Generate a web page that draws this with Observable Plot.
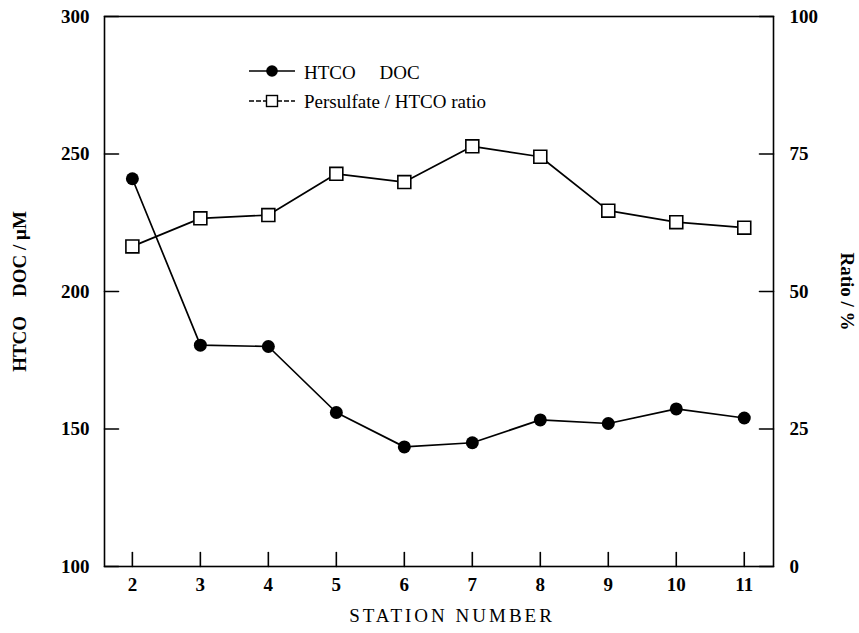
<!DOCTYPE html>
<html>
<head>
<meta charset="utf-8">
<script src="https://cdn.jsdelivr.net/npm/d3@7"></script>
<script src="https://cdn.jsdelivr.net/npm/@observablehq/plot@0.6"></script>
<style>
  html, body { margin: 0; padding: 0; background: #fff; }
  #chart { position: relative; width: 859px; height: 633px; }
  #legend { position: absolute; left: 245px; top: 55px; }
  svg text { font-family: "Liberation Serif", "Times New Roman", serif; }
</style>
</head>
<body>
<div id="chart"></div>
<script>
// Station numbers along the transect
const stations = [2, 3, 4, 5, 6, 7, 8, 9, 10, 11];
// HTCO DOC concentration (µM), left axis
const htcoDoc = [241, 180.5, 180, 156, 143.5, 145, 153.3, 152, 157.3, 154];
// Persulfate / HTCO ratio (%), right axis
const ratio = [58.2, 63.3, 63.9, 71.4, 69.9, 76.4, 74.5, 64.7, 62.6, 61.6];

const docTicks = [100, 150, 200, 250, 300];
const ratioTicks = [0, 25, 50, 75, 100];
const docDomain = [100, 300];
const ratioDomain = [0, 100];

// map a ratio value onto the DOC scale so both series share one y scale
const toDoc = r => docDomain[0] + (r - ratioDomain[0]) * (docDomain[1] - docDomain[0]) / (ratioDomain[1] - ratioDomain[0]);
const toRatio = v => ratioDomain[0] + (v - docDomain[0]) * (ratioDomain[1] - ratioDomain[0]) / (docDomain[1] - docDomain[0]);

const rows = stations.map((s, i) => ({station: s, doc: htcoDoc[i], ratio: ratio[i]}));

// plain straight tick stroke (no arrowhead) for inward ticks
const tickShape = {draw(context, l) { context.moveTo(0, 0); context.lineTo(0, -l); }};

const font = 19;
const chart = Plot.plot({
  width: 859,
  height: 633,
  marginLeft: 104,
  marginRight: 86,
  marginTop: 16,
  marginBottom: 67,
  style: {fontFamily: "Liberation Serif, Times New Roman, serif", fontSize: font + "px", color: "#000", background: "#fff"},
  x: {domain: [1.59, 11.43]},
  y: {domain: docDomain},
  marks: [
    Plot.frame({stroke: "#000", strokeWidth: 1.6}),
    // inward tick marks
    Plot.vector(docTicks, {y: d => d, frameAnchor: "left", length: 14, rotate: 90, anchor: "start", shape: tickShape, stroke: "#000", strokeWidth: 1.6}),
    Plot.vector(ratioTicks.map(toDoc), {y: d => d, frameAnchor: "right", length: 14, rotate: -90, anchor: "start", shape: tickShape, stroke: "#000", strokeWidth: 1.6}),
    Plot.vector(stations, {x: d => d, frameAnchor: "bottom", length: 14, rotate: 0, anchor: "start", shape: tickShape, stroke: "#000", strokeWidth: 1.6}),
    // tick labels
    Plot.axisY({anchor: "left", ticks: docTicks, tickSize: 0, tickPadding: 15, label: null, fontWeight: "bold", fontSize: font}),
    Plot.axisY({anchor: "right", ticks: ratioTicks.map(toDoc), tickFormat: v => String(Math.round(toRatio(v))), tickSize: 0, tickPadding: 16, label: null, fontWeight: "bold", fontSize: font}),
    Plot.axisX({anchor: "bottom", ticks: stations, tickSize: 0, tickPadding: 11, label: null, fontWeight: "bold", fontSize: font}),
    // axis titles
    Plot.text(["HTCO\u00a0\u00a0\u00a0\u00a0DOC / \u03bcM"], {frameAnchor: "left", textAnchor: "middle", dx: -85, rotate: -90, text: d => d, fontSize: font, fontWeight: "bold", fill: "#000"}),
    Plot.text(["Ratio / %"], {frameAnchor: "right", textAnchor: "middle", dx: 74, rotate: 90, text: d => d, fontSize: font, fontWeight: "bold", fill: "#000"}),
    Plot.text(["STATION NUMBER"], {frameAnchor: "bottom", dx: 13, dy: 55, text: d => d, fontSize: font, fill: "#000", className: "xtitle"}),
    // HTCO DOC series
    Plot.line(rows, {x: "station", y: "doc", stroke: "#000", strokeWidth: 1.7}),
    Plot.dot(rows, {x: "station", y: "doc", r: 6.5, fill: "#000", stroke: "none"}),
    // Persulfate / HTCO ratio series
    Plot.line(rows, {x: "station", y: d => toDoc(d.ratio), stroke: "#000", strokeWidth: 1.7}),
    Plot.dot(rows, {x: "station", y: d => toDoc(d.ratio), symbol: "square", r: 7.3, fill: "#fff", stroke: "#000", strokeWidth: 1.6})
  ]
});
d3.select(chart).selectAll(".xtitle text").attr("letter-spacing", "3px");
document.getElementById("chart").appendChild(chart);

// legend
const legend = d3.select("#chart").append("svg")
  .attr("id", "legend").attr("width", 280).attr("height", 64);
legend.append("line").attr("x1", 4).attr("x2", 50).attr("y1", 16).attr("y2", 16)
  .attr("stroke", "#000").attr("stroke-width", 1.7);
legend.append("circle").attr("cx", 27).attr("cy", 16).attr("r", 5.8).attr("fill", "#000");
legend.append("text").attr("x", 59).attr("y", 24).attr("font-size", font)
  .text("HTCO\u00a0\u00a0\u00a0\u00a0\u00a0DOC");
legend.append("line").attr("x1", 4).attr("x2", 50).attr("y1", 46).attr("y2", 46)
  .attr("stroke", "#000").attr("stroke-width", 1.7).attr("stroke-dasharray", "5,2");
legend.append("rect").attr("x", 21.5).attr("y", 40.5).attr("width", 11).attr("height", 11)
  .attr("fill", "#fff").attr("stroke", "#000").attr("stroke-width", 1.4);
legend.append("text").attr("x", 59).attr("y", 53).attr("font-size", font)
  .text("Persulfate / HTCO ratio");
</script>
</body>
</html>
